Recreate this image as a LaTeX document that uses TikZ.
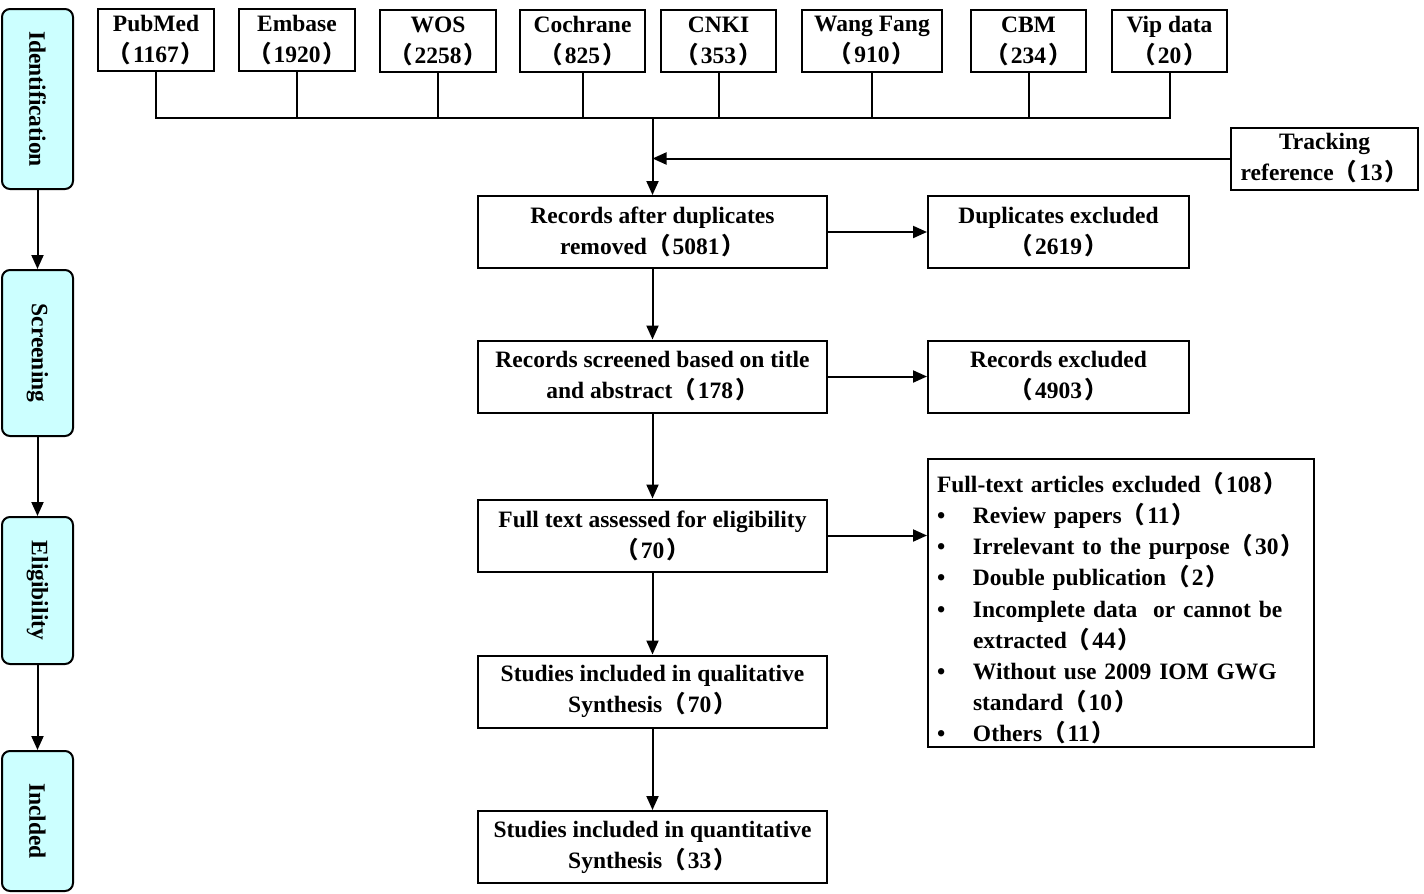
\documentclass[tikz,border=0pt]{standalone}
\usepackage{fontspec}
\setmainfont{Liberation Serif}
\newfontfamily\cjk{Noto Sans CJK SC}
\usepackage{tikz}
\usetikzlibrary{positioning, calc, arrows.meta}
\definecolor{stagecyan}{HTML}{CCFFFF}
\newcommand{\cjklp}{{\cjk （}\kern1pt}
\newcommand{\cjkrp}{\kern1pt{\cjk ）}}
\newcommand{\bul}{\makebox[18pt][l]{\textbullet}}
\tikzset{box/.style={draw, line width=1pt, align=center, inner sep=2pt,
    font=\fontsize{11.75}{15.5}\selectfont\bfseries}}
\tikzset{srcbox/.style={box, minimum height=31pt}}
\tikzset{mainbox/.style={box, minimum width=174.5pt, minimum height=36pt}}
\tikzset{exbox/.style={box, minimum width=130.5pt, minimum height=36pt}}
\tikzset{stage/.style={box, fill=stagecyan, rounded corners=4pt, rotate=-90, minimum height=35.5pt}}

\begin{document}
\begin{tikzpicture}[x=0.5pt, y=-0.5pt, line width=1pt, >={Triangle[length=7pt,width=6pt]}]
      \useasboundingbox (0,0) rectangle (1424,894);

      % stages
      \node[stage, minimum width=90pt] (ident) at (37.5,99) {Identification};
      \node[stage, minimum width=83pt] (scrn) at (37.5,353) {Screening};
      \node[stage, minimum width=73.5pt] (elig) at (37.5,590.5) {Eligibility};
      \node[stage, minimum width=70pt] (incl) at (37.5,821) {Inclded};
      \draw[->] (ident) -- (scrn);
      \draw[->] (scrn) -- (elig);
      \draw[->] (elig) -- (incl);

      % databases
      \node[srcbox, minimum width=58pt] (pubmed) at (156,40) {PubMed\\\cjklp 1167\cjkrp};
      \node[srcbox, minimum width=58pt] (embase) at (297,40) {Embase\\\cjklp 1920\cjkrp};
      \node[srcbox, minimum width=58pt] (wos) at (438,41) {WOS\\\cjklp 2258\cjkrp};
      \node[srcbox, minimum width=62.5pt] (cochrane) at (582.5,41) {Cochrane\\\cjklp 825\cjkrp};
      \node[srcbox, minimum width=57.5pt] (cnki) at (718.5,41) {CNKI\\\cjklp 353\cjkrp};
      \node[srcbox, minimum width=70pt] (wangfang) at (872,41) {Wang Fang\\\cjklp 910\cjkrp};
      \node[srcbox, minimum width=57.5pt] (cbm) at (1028.5,41) {CBM\\\cjklp 234\cjkrp};
      \node[srcbox, minimum width=57.5pt] (vip) at (1169.5,41) {Vip data\\\cjklp 20\cjkrp};
      \node[srcbox, minimum width=93.5pt] (track) at (1324.5,158.5) {Tracking\\reference\cjklp 13\cjkrp};

      \coordinate (bus) at (652.5,118);
      \draw (pubmed.south) -- (pubmed.south |- bus) -- (vip.south |- bus) -- (vip.south);
      \draw (embase.south) -- (embase.south |- bus);
      \draw (wos.south) -- (wos.south |- bus);
      \draw (cochrane.south) -- (cochrane.south |- bus);
      \draw (cnki.south) -- (cnki.south |- bus);
      \draw (wangfang.south) -- (wangfang.south |- bus);
      \draw (cbm.south) -- (cbm.south |- bus);

      % main column
      \node[mainbox] (dup) at (652.5,232) {Records after duplicates\\removed\cjklp 5081\cjkrp};
      \node[mainbox] (scr) at (652.5,376.5) {Records screened based on title\\and abstract\cjklp 178\cjkrp};
      \node[mainbox] (full) at (652.5,535.5) {Full text assessed for eligibility\\\cjklp 70\cjkrp};
      \node[mainbox] (qual) at (652.5,691.5) {Studies included in qualitative\\Synthesis\cjklp 70\cjkrp};
      \node[mainbox] (quan) at (652.5,847) {Studies included in quantitative\\Synthesis\cjklp 33\cjkrp};

      \node[exbox, right=49.5pt of dup] (dupx) {Duplicates excluded\\\cjklp 2619\cjkrp};
      \node[exbox, right=49.5pt of scr] (recx) {Records excluded\\\cjklp 4903\cjkrp};
      \node[box, align=left, text width=184pt, inner xsep=4.5pt, inner ysep=0pt,
        font=\fontsize{11.75}{15.6}\selectfont\bfseries] (fullx) at (1121,603) {%
        \rule{0pt}{16.5pt}Full-text articles excluded\cjklp 108\cjkrp\\
        \bul Review papers\cjklp 11\cjkrp\\
        \bul Irrelevant to the purpose\cjklp 30\cjkrp\\
        \bul Double publication\cjklp 2\cjkrp\\
        \bul Incomplete data\ \ or cannot be\\
        \hspace*{18pt}extracted\cjklp 44\cjkrp\\
        \bul Without use 2009 IOM GWG\\
        \hspace*{18pt}standard\cjklp 10\cjkrp\\
        \bul Others\cjklp 11\cjkrp\rule[-2.5pt]{0pt}{2.5pt}};

      \draw[->] (bus) -- (dup);
      \draw[->] (track.west) -- (track.west -| dup.north);
      \draw[->] (dup) -- (scr);
      \draw[->] (scr) -- (full);
      \draw[->] (full) -- (qual);
      \draw[->] (qual) -- (quan);
      \draw[->] (dup) -- (dupx);
      \draw[->] (scr) -- (recx);
      \draw[->] (full.east) -- (full.east -| fullx.west);

    \end{tikzpicture}
\end{document}
